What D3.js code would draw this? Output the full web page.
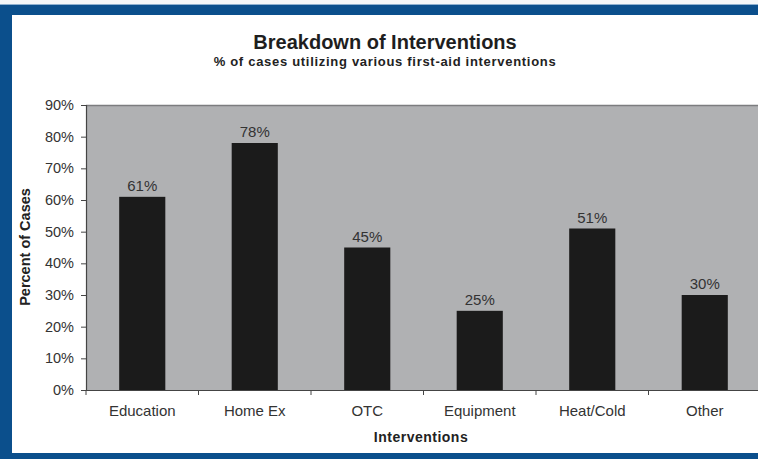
<!DOCTYPE html>
<html>
<head>
<meta charset="utf-8">
<script src="https://cdn.jsdelivr.net/npm/d3@7/dist/d3.min.js"></script>
<style>
  html, body { margin: 0; padding: 0; background: #ffffff; }
  svg { display: block; font-family: Arial, "Liberation Sans", sans-serif; }
</style>
</head>
<body>
<svg id="chart" width="758" height="459"></svg>
<script>
// Share of cases using each first-aid intervention
const categories = ["Education", "Home Ex", "OTC", "Equipment", "Heat/Cold", "Other"];
const percents = [61, 78, 45, 25, 51, 30];
const yTicks = [0, 10, 20, 30, 40, 50, 60, 70, 80, 90];

const svg = d3.select("#chart");
const W = 758, H = 459;
const FONT = "Arial, 'Liberation Sans', sans-serif";

// Blue frame around the white panel
svg.append("rect").attr("x", 0).attr("y", 0).attr("width", W).attr("height", H).attr("fill", "#f4f6f8");
svg.append("rect").attr("x", 0).attr("y", 4).attr("width", W + 20).attr("height", H).attr("fill", "#0b4f8c");
svg.append("line").attr("x1", 0).attr("x2", W).attr("y1", 4.5).attr("y2", 4.5).attr("stroke", "#8fb0cf").attr("stroke-width", 1);
svg.append("rect").attr("x", 12).attr("y", 15).attr("width", W + 20).attr("height", 438).attr("fill", "#ffffff");

// Plot area
const plot = { left: 86, top: 105, right: 761, bottom: 390 };

const x = d3.scaleBand()
  .domain(categories)
  .range([plot.left, plot.right])
  .paddingInner(0.59)
  .paddingOuter(0.295);

const y = d3.scaleLinear()
  .domain([0, 90])
  .range([plot.bottom, plot.top]);

svg.append("rect")
  .attr("x", plot.left).attr("y", plot.top)
  .attr("width", plot.right - plot.left).attr("height", plot.bottom - plot.top)
  .attr("fill", "#b0b1b3");
svg.append("line")
  .attr("x1", plot.left).attr("x2", plot.right)
  .attr("y1", plot.top + 0.5).attr("y2", plot.top + 0.5)
  .attr("stroke", "#7c7d7f").attr("stroke-width", 1.5);

// Bars
svg.append("g").selectAll("rect")
  .data(categories)
  .join("rect")
  .attr("x", d => x(d))
  .attr("y", (d, i) => y(percents[i]))
  .attr("width", x.bandwidth())
  .attr("height", (d, i) => y(0) - y(percents[i]))
  .attr("fill", "#1b1b1b");

// Value labels
svg.append("g").selectAll("text")
  .data(categories)
  .join("text")
  .attr("x", d => x(d) + x.bandwidth() / 2)
  .attr("y", (d, i) => y(percents[i]) - 6)
  .attr("text-anchor", "middle")
  .attr("font-size", 15)
  .attr("fill", "#333333")
  .text((d, i) => percents[i] + "%");

// Y axis
const yAxis = svg.append("g")
  .attr("transform", `translate(${plot.left},0)`)
  .call(d3.axisLeft(y).tickValues(yTicks).tickFormat(d => d + "%").tickSize(5).tickPadding(7));
yAxis.select(".domain").attr("stroke", "#444444").attr("stroke-width", 1.2);
yAxis.selectAll(".tick line").attr("stroke", "#444444");
yAxis.selectAll(".tick text").attr("font-size", 14.5).attr("fill", "#333333").attr("font-family", FONT);

// X axis with ticks between categories
const xAxis = svg.append("g")
  .attr("transform", `translate(0,${plot.bottom})`)
  .call(d3.axisBottom(x).tickSize(0).tickPadding(15));
xAxis.select(".domain").attr("stroke", "#444444").attr("stroke-width", 1.2);
xAxis.selectAll(".tick text").attr("font-size", 15).attr("fill", "#333333").attr("font-family", FONT);
const step = x.step();
xAxis.append("g").selectAll("line")
  .data(d3.range(categories.length + 1))
  .join("line")
  .attr("x1", i => plot.left + i * step)
  .attr("x2", i => plot.left + i * step)
  .attr("y1", 0).attr("y2", 5)
  .attr("stroke", "#444444");

// Titles
svg.append("text")
  .attr("x", 385).attr("y", 49)
  .attr("text-anchor", "middle")
  .attr("font-size", 20).attr("font-weight", "bold").attr("fill", "#1e1e1e")
  .text("Breakdown of Interventions");
svg.append("text")
  .attr("x", 385).attr("y", 66)
  .attr("text-anchor", "middle")
  .attr("font-size", 13).attr("font-weight", "bold").attr("fill", "#222222")
  .attr("letter-spacing", 0.7)
  .text("% of cases utilizing various first-aid interventions");

svg.append("text")
  .attr("transform", "translate(30,247) rotate(-90)")
  .attr("text-anchor", "middle")
  .attr("font-size", 14.5).attr("font-weight", "bold").attr("fill", "#222222")
  .text("Percent of Cases");

svg.append("text")
  .attr("x", 421).attr("y", 442)
  .attr("text-anchor", "middle")
  .attr("font-size", 14).attr("font-weight", "bold").attr("fill", "#222222")
  .attr("letter-spacing", 0.5)
  .text("Interventions");
</script>
</body>
</html>
